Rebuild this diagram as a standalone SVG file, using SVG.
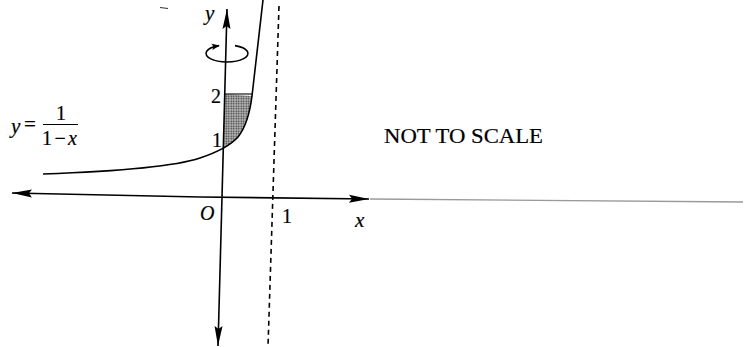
<svg xmlns="http://www.w3.org/2000/svg" width="744" height="347" viewBox="0 0 744 347">
<defs>
<style>
.ax{stroke:#000;stroke-width:1.6;fill:none}
.t{font-family:"Liberation Serif","Times New Roman",serif;fill:#000;stroke:#000;stroke-width:0.2}
.i{font-style:italic}
</style>
<marker id="ah" viewBox="0 0 20 10" refX="20" refY="5" markerWidth="20" markerHeight="10" markerUnits="userSpaceOnUse" orient="auto">
<path d="M0,1 L20,5 L0,9 L3,5 Z" fill="#000"/>
</marker>
<marker id="sh" viewBox="0 0 10 8" refX="9" refY="4" markerWidth="8" markerHeight="7" markerUnits="userSpaceOnUse" orient="auto">
<path d="M0,0 L10,4 L0,8 L2,4 Z" fill="#000"/>
</marker>
<pattern id="dots" width="2.5" height="2.5" patternUnits="userSpaceOnUse">
<rect width="2.5" height="2.5" fill="#b8b8b8"/>
<circle cx="1.25" cy="1.25" r="0.8" fill="#333"/>
</pattern>
</defs>
<rect width="744" height="347" fill="#fff"/>
<g id="region">
<path d="M224,94 L224,148 Q233,143 238,137 C246,127 250,112 252,96 Z" fill="url(#dots)" stroke="none"/>
<line x1="224" y1="94" x2="252" y2="94" stroke="#000" stroke-width="1.1"/>
</g>
<g id="connectors">
<line x1="370" y1="199" x2="743" y2="202" stroke="#999" stroke-width="1.3"/>
<line x1="200" y1="197" x2="12" y2="193" class="ax" marker-end="url(#ah)"/>
<line x1="200" y1="197" x2="369" y2="199" class="ax" marker-end="url(#ah)"/>
<line x1="222" y1="197" x2="227" y2="9" class="ax" marker-end="url(#ah)"/>
<line x1="222" y1="197" x2="218" y2="346" class="ax" marker-end="url(#ah)"/>
<line x1="279" y1="6" x2="268" y2="347" stroke="#000" stroke-width="1.6" stroke-dasharray="5,4"/>
<path d="M43,174 C100,172 170,168 200,158 C215,153 230,146 238,137 C246,127 250,112 252,96 C255,70 259,35 263,0" class="ax"/>
<path d="M235,45.6 A21,8.5 0 1 1 219,45.6" class="ax" marker-end="url(#sh)"/>
<line x1="160" y1="7.5" x2="168" y2="8.5" stroke="#333" stroke-width="1.2"/>
</g>
<g id="labels">
<text class="t i" x="205" y="20" font-size="21">y</text>
<text class="t" x="211" y="103" font-size="20">2</text>
<text class="t" x="212" y="147" font-size="20">1</text>
<text class="t i" x="200" y="220" font-size="20">O</text>
<text class="t" x="282" y="223" font-size="20">1</text>
<text class="t i" x="355" y="227" font-size="21">x</text>
<text class="t" x="384" y="143" font-size="22" textLength="159" lengthAdjust="spacingAndGlyphs">NOT TO SCALE</text>
</g>
<g id="equation">
<text class="t i" x="11" y="133" font-size="21">y</text>
<text class="t" x="24" y="131" font-size="21">=</text>
<text class="t" x="56" y="120" font-size="20">1</text>
<line x1="43" y1="124.5" x2="78" y2="124.5" stroke="#000" stroke-width="1.1"/>
<text class="t" x="42" y="145" font-size="20" textLength="35" lengthAdjust="spacing">1−<tspan class="i">x</tspan></text>
</g>
</svg>
